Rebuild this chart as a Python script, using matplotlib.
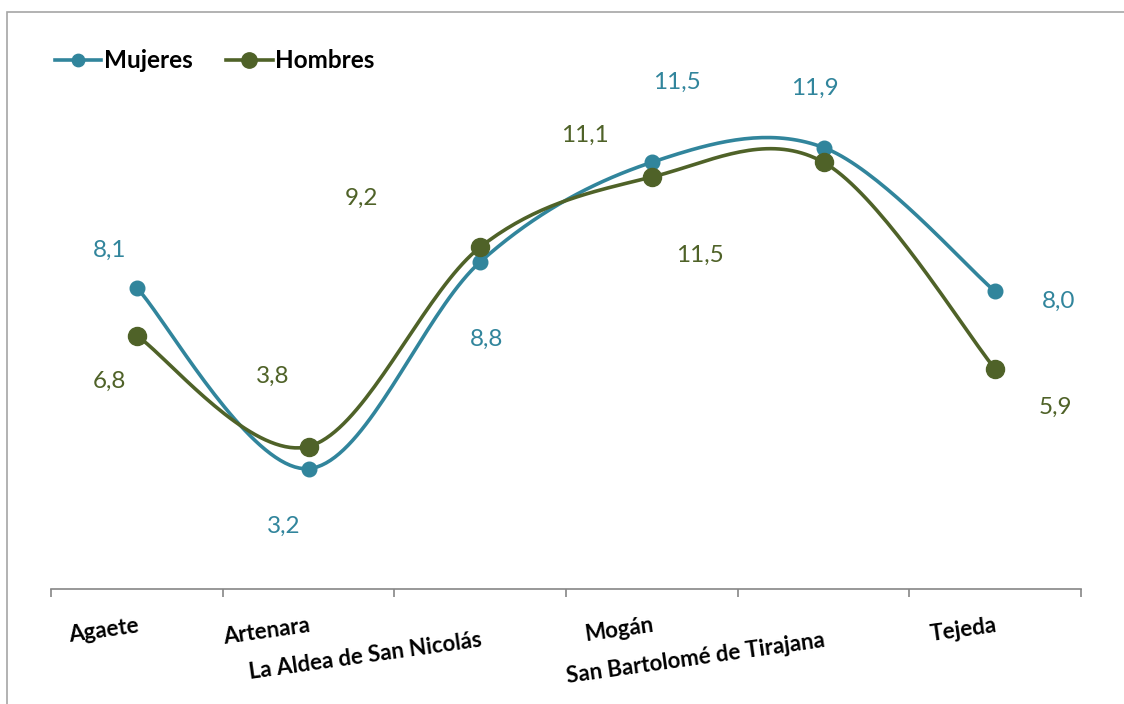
import numpy as np
import matplotlib
matplotlib.use("Agg")
import matplotlib.pyplot as plt
from matplotlib.patches import Rectangle

plt.rcParams['font.family'] = ['Lato', 'DejaVu Sans']

municipios = ["Agaete", "Artenara", "La Aldea de San Nicolás", "Mogán",
              "San Bartolomé de Tirajana", "Tejeda"]
mujeres = [8.1, 3.2, 8.8, 11.5, 11.9, 8.0]
hombres = [6.8, 3.8, 9.2, 11.1, 11.5, 5.9]

c_muj = "#31859C"
c_hom = "#4F6228"

# label offsets in pixels (dx, dy) relative to each point, like the original
off_muj = [(-27, 37), (-25, -58), (6, -77), (25, 80), (-9, 59), (63, -10)]
off_hom = [(-27, -46), (-36, 70), (-119, 49), (-67, 42), (-124, -93), (60, -38)]


def smooth(x, y, n=40):
    # Catmull-Rom / bezier smoothing like Excel's smoothed lines
    px = np.concatenate([[x[0]], x, [x[-1]]])
    py = np.concatenate([[y[0]], y, [y[-1]]])
    xs, ys = [], []
    t = np.linspace(0, 1, n)
    for i in range(1, len(px) - 2):
        p0 = np.array([px[i], py[i]])
        p3 = np.array([px[i + 1], py[i + 1]])
        c1 = p0 + (np.array([px[i + 1], py[i + 1]]) - np.array([px[i - 1], py[i - 1]])) / 6
        c2 = p3 - (np.array([px[i + 2], py[i + 2]]) - p0) / 6
        b = ((1 - t) ** 3)[:, None] * p0 + (3 * (1 - t) ** 2 * t)[:, None] * c1 \
            + (3 * (1 - t) * t ** 2)[:, None] * c2 + (t ** 3)[:, None] * p3
        xs.extend(b[:, 0])
        ys.extend(b[:, 1])
    return np.array(xs), np.array(ys)


fig = plt.figure(figsize=(11.24, 7.04), dpi=100)
ax = fig.add_axes([51 / 1124, 1 - 589 / 704, 1030 / 1124, 519 / 704])

x = np.arange(len(municipios))
for vals, col, ms, lab, offs in [(mujeres, c_muj, 10.5, "Mujeres", off_muj),
                                 (hombres, c_hom, 13, "Hombres", off_hom)]:
    sx, sy = smooth(x, np.array(vals, dtype=float))
    ax.plot(sx, sy, color=col, lw=2.6, zorder=2)
    ax.plot(x, vals, 'o', color=col, ms=ms, zorder=3)
    ax.plot([], [], '-o', color=col, lw=2.6, ms=ms * 0.85, label=lab)
    for xi, v, (dx, dy) in zip(x, vals, offs):
        ax.annotate(f"{v:.1f}".replace(".", ","), (xi, v), xytext=(dx, dy),
                    textcoords='offset pixels', ha='center', va='center',
                    fontsize=17.5, color=col)

ax.set_xlim(-0.5, len(municipios) - 0.5)
ax.set_ylim(-0.06, 14)
for s in ['top', 'right', 'left']:
    ax.spines[s].set_visible(False)
ax.spines['bottom'].set_color('#868686')
ax.spines['bottom'].set_linewidth(1.2)
ax.set_yticks([])
ax.set_xticks(x)
ax.set_xticklabels([])
ax.tick_params(axis='x', which='major', length=0)
ax.set_xticks(np.arange(len(municipios) + 1) - 0.5, minor=True)
ax.tick_params(axis='x', which='minor', length=6, color='#868686', width=1.2)

rows = [0, 0, 1, 0, 1, 0]
for xi, name, r in zip(x, municipios, rows):
    ax.text(xi, -0.05 - 0.028 * r, name, transform=ax.get_xaxis_transform(),
            rotation=8, rotation_mode='anchor', ha='right', va='top',
            fontsize=16, fontweight='bold', color='black')

ax.legend(loc='center left', bbox_to_anchor=(55 / 1124, 1 - 61 / 704),
          bbox_transform=fig.transFigure, ncol=2, frameon=False,
          borderpad=0, borderaxespad=0, handlelength=1.9, handletextpad=0.1,
          columnspacing=1.4, prop={'size': 17.5, 'weight': 'bold'})

fig.patches.append(Rectangle((7 / 1124, -0.1), 1.2, 1.1 - 12 / 704,
                             transform=fig.transFigure, fill=False,
                             edgecolor='#A6A6A6', lw=1.2))

fig.savefig("out.png", dpi=100)
